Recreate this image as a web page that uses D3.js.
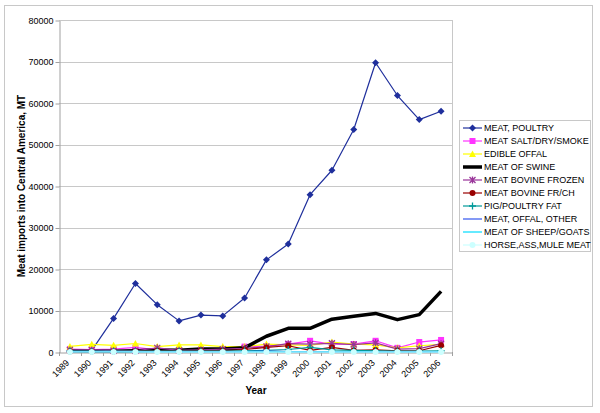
<!DOCTYPE html>
<html><head><meta charset="utf-8">
<script src="https://cdn.jsdelivr.net/npm/d3@7"></script>
<style>body{margin:0;background:#fff}svg{display:block;font-family:"Liberation Sans",Arial,sans-serif}</style>
</head><body><svg id="c" width="600" height="413"></svg>
<script>
const years = ["1989","1990","1991","1992","1993","1994","1995","1996","1997","1998","1999","2000","2001","2002","2003","2004","2005","2006"];
const yTicks = [0,10000,20000,30000,40000,50000,60000,70000,80000];
const poultry   = [300,400,8100,16500,11400,7500,8900,8700,13000,22200,26000,37900,43800,53600,69700,61800,56000,58000];
const saltDry   = [700,600,700,1100,500,400,500,600,1300,1400,1900,2700,1900,1900,2700,1000,2400,2900];
const edibleOff = [1350,1850,1600,2050,1300,1700,1700,1300,1300,1900,1700,1600,2400,1900,1700,1000,1500,1850];
const swine     = [300,200,200,300,500,400,700,700,1000,3800,5700,5700,7900,8600,9300,7800,9000,14600];
const bovFrozen = [500,500,300,300,1000,400,500,700,900,1300,2000,1900,2100,1800,2200,700,800,2000];
const bovFrCh   = [100,100,100,200,300,200,300,300,600,1100,1500,400,1100,400,500,300,300,1600];
const pigFat    = [200,200,200,200,200,200,200,200,300,400,600,1100,500,400,300,200,200,300];
const offalOth  = [100,100,100,100,100,100,100,100,100,200,100,100,100,100,100,100,100,100];
const sheep     = [50,50,50,50,50,50,50,50,50,50,50,50,50,50,50,50,50,50];
const horse     = [0,0,0,0,0,0,0,0,0,0,0,0,0,0,0,0,0,0];

const series = [
  {name:"MEAT, POULTRY", v:poultry, c:"#1f2f9c", w:1.2, m:"diamond"},
  {name:"MEAT SALT/DRY/SMOKE", v:saltDry, c:"#ff33ff", w:1.2, m:"square"},
  {name:"EDIBLE OFFAL", v:edibleOff, c:"#ffff00", w:1.2, m:"triangle"},
  {name:"MEAT OF SWINE", v:swine, c:"#000000", w:3.5, m:null},
  {name:"MEAT BOVINE FROZEN", v:bovFrozen, c:"#993399", w:1.2, m:"star"},
  {name:"MEAT BOVINE FR/CH", v:bovFrCh, c:"#990000", w:1.2, m:"circle"},
  {name:"PIG/POULTRY FAT", v:pigFat, c:"#009999", w:1.2, m:"plus"},
  {name:"MEAT, OFFAL, OTHER", v:offalOth, c:"#3355ee", w:1.2, m:null},
  {name:"MEAT OF SHEEP/GOATS", v:sheep, c:"#00ddff", w:1.2, m:null},
  {name:"HORSE,ASS,MULE MEAT", v:horse, c:"#ccffff", w:1.2, m:"circle"}
];

const svg = d3.select("#c");
const L=59, R=452, T=20, B=352;
svg.append("rect").attr("x",4.5).attr("y",5.5).attr("width",588).attr("height",401).attr("fill","#fff").attr("stroke","#c8c8c8");

const x = d3.scaleBand().domain(years).range([L,R]);
const y = d3.scaleLinear().domain([0,80000]).range([B,T]);

// gridlines
svg.append("g").selectAll("line").data(yTicks.slice(1)).join("line")
  .attr("x1",L).attr("x2",R).attr("y1",d=>Math.round(y(d))+0.5).attr("y2",d=>Math.round(y(d))+0.5)
  .attr("stroke","#c8c8c8");
svg.append("line").attr("x1",R+0.5).attr("x2",R+0.5).attr("y1",T).attr("y2",B).attr("stroke","#c8c8c8");

// y axis
const ya = svg.append("g").attr("transform",`translate(${L+0.5},0.5)`)
  .call(d3.axisLeft(y).tickValues(yTicks).tickFormat(d3.format("d")).tickSize(4).tickSizeOuter(0));
ya.select(".domain").attr("stroke","#a0a0a0");
ya.selectAll(".tick line").attr("stroke","#a0a0a0");
ya.selectAll(".tick text").attr("font-size",9).attr("fill","#000").attr("x",-6).attr("font-family","Liberation Sans, Arial");

// x axis
const xa = svg.append("g").attr("transform",`translate(0,${B+0.5})`)
  .call(d3.axisBottom(x).tickSize(0).tickSizeOuter(0));
xa.select(".domain").attr("stroke","#a0a0a0");
xa.selectAll(".tick text").attr("font-size",9).attr("fill","#000").attr("font-family","Liberation Sans, Arial")
  .attr("text-anchor","end").attr("dy",0).attr("y",0)
  .attr("transform","translate(0,11) rotate(-45)");
// category boundary ticks
svg.append("g").selectAll("line").data(years.concat(["end"])).join("line")
  .attr("x1",(d,i)=>Math.round(L+i*x.step())+0.5).attr("x2",(d,i)=>Math.round(L+i*x.step())+0.5)
  .attr("y1",B).attr("y2",B+4).attr("stroke","#a0a0a0");

// titles
svg.append("text").attr("x",256).attr("y",394).attr("text-anchor","middle").attr("font-size",10).attr("font-weight","bold").text("Year");
svg.append("text").attr("transform",`translate(25,${(T+B)/2}) rotate(-90)`).attr("text-anchor","middle").attr("font-size",10).attr("font-weight","bold").text("Meat imports into Central America, MT");

function marker(g, type, color, cx, cy){
  if(!type) return;
  if(type==="diamond") g.append("path").attr("d",`M${cx},${cy-3.5}L${cx+3.5},${cy}L${cx},${cy+3.5}L${cx-3.5},${cy}Z`).attr("fill",color);
  else if(type==="square") g.append("rect").attr("x",cx-3).attr("y",cy-3).attr("width",6).attr("height",6).attr("fill",color);
  else if(type==="triangle") g.append("path").attr("d",`M${cx},${cy-3.5}L${cx+3.5},${cy+3}L${cx-3.5},${cy+3}Z`).attr("fill",color);
  else if(type==="circle") g.append("circle").attr("cx",cx).attr("cy",cy).attr("r",3).attr("fill",color);
  else if(type==="star") g.append("path").attr("d",`M${cx-3},${cy-3}L${cx+3},${cy+3}M${cx-3},${cy+3}L${cx+3},${cy-3}M${cx},${cy-3.5}L${cx},${cy+3.5}`).attr("stroke",color).attr("stroke-width",1.3).attr("fill","none");
  else if(type==="plus") g.append("path").attr("d",`M${cx-3.5},${cy}L${cx+3.5},${cy}M${cx},${cy-3.5}L${cx},${cy+3.5}`).attr("stroke",color).attr("stroke-width",1.3).attr("fill","none");
}

const line = d3.line().x((d,i)=>x(years[i])+x.bandwidth()/2).y(d=>y(d));
series.forEach(s=>{
  const g = svg.append("g");
  g.append("path").attr("d",line(s.v)).attr("fill","none").attr("stroke",s.c).attr("stroke-width",s.w).attr("stroke-linejoin","round");
  s.v.forEach((v,i)=>marker(g,s.m,s.c,x(years[i])+x.bandwidth()/2,y(v)));
});

// legend
const lg = svg.append("g");
lg.append("rect").attr("x",459.5).attr("y",120.5).attr("width",131).attr("height",131).attr("fill","#fff").attr("stroke","#c8c8c8");
series.forEach((s,i)=>{
  const cy = 128 + i*13;
  lg.append("line").attr("x1",463).attr("x2",482).attr("y1",cy).attr("y2",cy).attr("stroke",s.c).attr("stroke-width",s.w);
  marker(lg,s.m,s.c,472.5,cy);
  lg.append("text").attr("x",484).attr("y",cy+3.3).attr("font-size",9).attr("fill","#000").text(s.name);
});
</script></body></html>
